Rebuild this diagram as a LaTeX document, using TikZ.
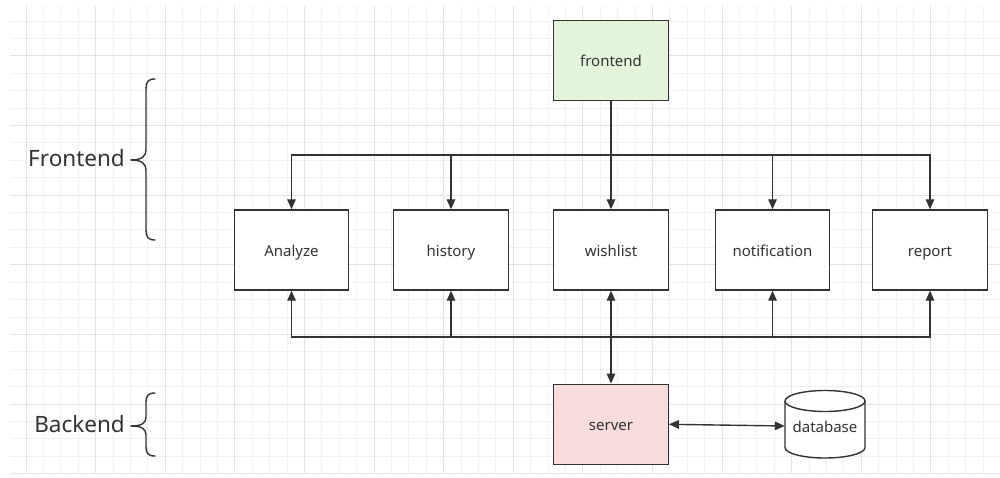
\documentclass[tikz,border=0pt]{standalone}
\usepackage{fontspec}
\setmainfont{Noto Sans}
\usetikzlibrary{arrows.meta}
\definecolor{ink}{HTML}{333333}
\definecolor{gminor}{HTML}{F1F1F1}
\definecolor{gmajor}{HTML}{E3E3E3}
\definecolor{fegreen}{HTML}{E4F4DB}
\definecolor{svpink}{HTML}{F8DCDC}
\begin{document}
\begin{tikzpicture}[x=1pt,y=-1pt,
  box/.style={draw=ink,line width=1.4pt,minimum width=114.5pt,minimum height=80pt,inner sep=0pt,font=\fontsize{15}{18}\selectfont,text=ink,text height=13pt,text depth=0pt},
  ln/.style={draw=ink,line width=1.4pt},
  arr/.style={ln,-{Triangle[length=10pt,width=8.5pt]}},
  arrb/.style={ln,{Triangle[length=10pt,width=8.5pt]}-{Triangle[length=10pt,width=8.5pt]}},
  brace/.style={draw=ink,line width=1.4pt,line cap=round},
  biglabel/.style={font=\fontsize{22.5}{26}\selectfont,text=ink,inner sep=0pt,text height=13.4pt,text depth=0pt}]
\useasboundingbox[fill=white] (0,0) rectangle (1000,478);
% grid
\foreach \k in {0,...,56}{\pgfmathsetmacro\xx{26+17.4*\k}\draw[gminor,line width=1pt] (\xx,6) -- (\xx,474);}
\foreach \k in {-2,...,24}{\pgfmathsetmacro\yy{56+17.4*\k}\draw[gminor,line width=1pt] (10,\yy) -- (1000,\yy);}
\foreach \k in {0,4,...,56}{\pgfmathsetmacro\xx{26+17.4*\k}\draw[gmajor,line width=1pt] (\xx,6) -- (\xx,474);}
\foreach \k in {0,4,...,24}{\pgfmathsetmacro\yy{56+17.4*\k}\draw[gmajor,line width=1pt] (10,\yy) -- (1000,\yy);}
% nodes
\node[box,fill=fegreen] (fe) at (611,60.5) {frontend};
\node[box,fill=white] (an) at (291.5,250) {Analyze};
\node[box,fill=white] (hi) at (451,250) {history};
\node[box,fill=white] (wl) at (611,250) {wishlist};
\node[box,fill=white] (no) at (772.5,250) {notification};
\node[box,fill=white] (re) at (930,250) {report};
\node[box,fill=svpink] (sv) at (611,424.3) {server};
% database cylinder
\draw[ln,fill=white] (785,401) -- (785,447.5) arc[start angle=180,end angle=360,x radius=40pt,y radius=10.5pt] -- (865,401);
\draw[ln,fill=white] (825,401) ellipse[x radius=40pt,y radius=10.5pt];
\node[minimum width=80pt,minimum height=68pt,inner sep=0pt,font=\fontsize{15}{18}\selectfont,text=ink,text height=13pt,text depth=0pt] (db) at (825,426) {database};
% connectors
\coordinate (tb) at (611,155);
\coordinate (bb) at (611,337);
\draw[ln] (fe.south) -- (tb);
\foreach \n in {an,hi,wl,no,re}{\draw[arr] (tb) -| (\n.north);}
\foreach \n in {an,hi,no,re}{\draw[arr] (bb) -| (\n.south);}
\draw[arrb] (sv.north) -- (wl.south);
\draw[arrb] (sv.east) -- (db.west);
% braces
\draw[brace] (155,79) .. controls (148,79) and (146,82) .. (146,89) -- (146,150) .. controls (146,156) and (142,160) .. (131,160);
\draw[brace] (155,240) .. controls (148,240) and (146,237) .. (146,230) -- (146,170) .. controls (146,164) and (142,160) .. (131,160);
\node[biglabel,anchor=east] (fl) at (125,160) {Frontend};
\draw[brace] (155,393) .. controls (148,393) and (146,396) .. (146,402) -- (146,417) .. controls (146,423) and (142,426) .. (131,426);
\draw[brace] (155,456) .. controls (148,456) and (146,453) .. (146,447) -- (146,435) .. controls (146,429) and (142,426) .. (131,426);
\node[biglabel,anchor=east] (bl) at (125,426) {Backend};
\end{tikzpicture}
\end{document}
